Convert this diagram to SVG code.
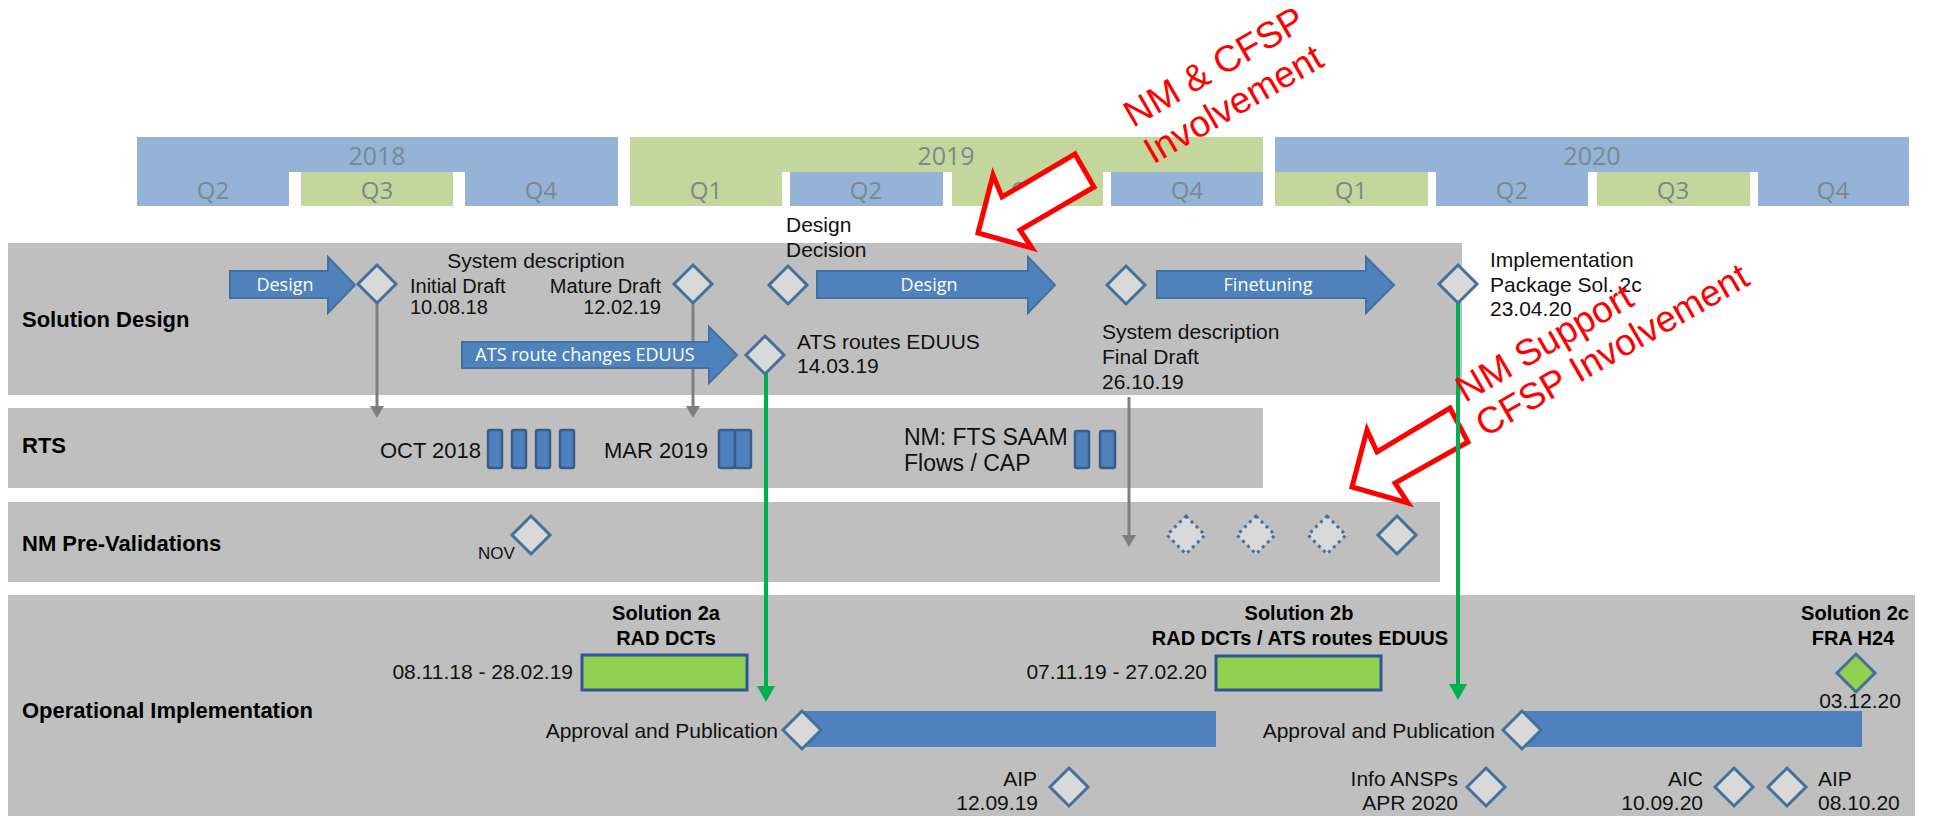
<svg xmlns="http://www.w3.org/2000/svg" width="1933" height="816" viewBox="0 0 1933 816">
<defs>
<style>
.bl{fill:#95B3D7}
.gr{fill:#C3D69B}
.hy{font-family:"Open Sans","Liberation Sans",sans-serif;font-size:25px;fill:#7C8791;text-anchor:middle}
.hq{font-family:"Open Sans","Liberation Sans",sans-serif;font-size:24px;fill:#7C8791;text-anchor:middle}
.lane{fill:#BFBFBF}
.lbl{font-family:"Liberation Sans",Arial,sans-serif;font-size:22px;font-weight:bold;fill:#000}
.t{font-family:"Liberation Sans",Arial,sans-serif;font-size:21px;fill:#111}
.t20{font-family:"Liberation Sans",Arial,sans-serif;font-size:20px;fill:#111}
.t22{font-family:"Liberation Sans",Arial,sans-serif;font-size:22px;fill:#111}
.tb{font-family:"Liberation Sans",Arial,sans-serif;font-size:20px;font-weight:bold;fill:#000;text-anchor:middle}
.e{text-anchor:end}
.m{text-anchor:middle}
.dia{fill:#D9D9D9;stroke:#41719C;stroke-width:3}
.dot{fill:#D9D9D9;stroke:#41719C;stroke-width:3;stroke-dasharray:3 4}
.gdia{fill:#92D050;stroke:#41719C;stroke-width:3}
.barr{fill:#4F81BD;stroke:#41719C;stroke-width:2}
.al{font-family:"Open Sans","Liberation Sans",sans-serif;font-size:18px;fill:#fff;text-anchor:middle}
.rts{fill:#4F81BD;stroke:#385D8A;stroke-width:2.5}
.gbox{fill:#92D050;stroke:#2F5597;stroke-width:3}
.pub{fill:#4F81BD}
.gline{stroke:#00B050;stroke-width:4;fill:none}
.gray{stroke:#7F7F7F;stroke-width:3;fill:none}
.red{fill:#fff;stroke:#FF0000;stroke-width:5;stroke-linejoin:miter}
.rt{font-family:"Liberation Sans",Arial,sans-serif;font-size:37px;fill:#FF0000}
</style>
<path id="dm" d="M0,-19L19,0L0,19L-19,0Z"/>
<marker id="ag" markerUnits="userSpaceOnUse" markerWidth="12" markerHeight="14" refX="0" refY="7" orient="auto"><path d="M0,0L12,7L0,14Z" fill="#7F7F7F"/></marker>
<marker id="agr" markerUnits="userSpaceOnUse" markerWidth="16" markerHeight="18" refX="0" refY="9" orient="auto"><path d="M0,0L16,9L0,18Z" fill="#00B050"/></marker>
</defs>
<rect width="1933" height="816" fill="#fff"/>

<g id="header">
<rect class="bl" x="137" y="137" width="481" height="35"/>
<rect class="bl" x="137" y="172" width="152" height="34"/>
<rect class="gr" x="301" y="172" width="152" height="34"/>
<rect class="bl" x="465" y="172" width="153" height="34"/>
<text class="hy" x="377" y="165">2018</text>
<text class="hq" x="213" y="199">Q2</text>
<text class="hq" x="377" y="199">Q3</text>
<text class="hq" x="541" y="199">Q4</text>
<rect class="gr" x="630" y="137" width="633" height="35"/>
<rect class="gr" x="630" y="172" width="152" height="34"/>
<rect class="bl" x="790" y="172" width="153" height="34"/>
<rect class="gr" x="952" y="172" width="151" height="34"/>
<rect class="bl" x="1111" y="172" width="152" height="34"/>
<text class="hy" x="946" y="165">2019</text>
<text class="hq" x="706" y="199">Q1</text>
<text class="hq" x="866" y="199">Q2</text>
<text class="hq" x="1027" y="199">Q3</text>
<text class="hq" x="1187" y="199">Q4</text>
<rect class="bl" x="1275" y="137" width="634" height="35"/>
<rect class="gr" x="1275" y="172" width="153" height="34"/>
<rect class="bl" x="1436" y="172" width="152" height="34"/>
<rect class="gr" x="1597" y="172" width="153" height="34"/>
<rect class="bl" x="1758" y="172" width="151" height="34"/>
<text class="hy" x="1592" y="165">2020</text>
<text class="hq" x="1351" y="199">Q1</text>
<text class="hq" x="1512" y="199">Q2</text>
<text class="hq" x="1673" y="199">Q3</text>
<text class="hq" x="1833" y="199">Q4</text>
</g>

<g id="lane-solution-design">
<rect class="lane" x="8" y="243" width="1454" height="152"/>
<text class="lbl" x="22" y="327">Solution Design</text>
</g>
<g id="lane-rts">
<rect class="lane" x="8" y="408" width="1255" height="80"/>
<text class="lbl" x="22" y="453">RTS</text>
</g>
<g id="lane-nm-prevalidations">
<rect class="lane" x="8" y="502" width="1432" height="80"/>
<text class="lbl" x="22" y="551">NM Pre-Validations</text>
</g>
<g id="lane-operational-implementation">
<rect class="lane" x="8" y="595" width="1907" height="221"/>
<text class="lbl" x="22" y="718">Operational Implementation</text>
</g>

<g id="callout-arrow-1">
<polygon class="red" points="978,233 993,175 1002,197 1075,154 1094,187 1020,230 1032,248"/>
</g>
<g id="callout-arrow-2">
<polygon class="red" points="1352,487 1367,430 1377,452 1450,408 1468,442 1395,483 1408,503"/>
</g>

<g id="connectors">
<line class="gray" x1="377" y1="303" x2="377" y2="406" marker-end="url(#ag)"/>
<line class="gray" x1="693" y1="303" x2="693" y2="406" marker-end="url(#ag)"/>
<line class="gray" x1="1129" y1="397" x2="1129" y2="535" marker-end="url(#ag)"/>
<line class="gline" x1="766" y1="372" x2="766" y2="686" marker-end="url(#agr)"/>
<line class="gline" x1="1458" y1="302" x2="1458" y2="684" marker-end="url(#agr)"/>
</g>

<g id="design-arrow-1">
<polygon class="barr" points="230,271 328,271 328,257 355,285 328,313 328,298 230,298"/>
<text class="al" x="285" y="291">Design</text>
</g>
<g id="initial-draft">
<use href="#dm" class="dia" x="377" y="284"/>
<text class="t m" x="536" y="268">System description</text>
<text class="t20" x="410" y="293">Initial Draft</text>
<text class="t20" x="410" y="314">10.08.18</text>
</g>
<g id="mature-draft">
<use href="#dm" class="dia" x="693" y="284"/>
<text class="t20 e" x="661" y="293">Mature Draft</text>
<text class="t20 e" x="661" y="314">12.02.19</text>
</g>
<g id="ats-route-changes">
<polygon class="barr" points="462,342 709,342 709,327 737,355 709,383 709,368 462,368"/>
<text class="al" x="585" y="361">ATS route changes  EDUUS</text>
</g>
<g id="ats-routes-eduus">
<use href="#dm" class="dia" x="765" y="355"/>
<text class="t" x="797" y="349">ATS routes EDUUS</text>
<text class="t" x="797" y="373">14.03.19</text>
</g>
<g id="design-decision">
<use href="#dm" class="dia" x="788" y="285"/>
<text class="t" x="786" y="232">Design</text>
<text class="t" x="786" y="257">Decision</text>
</g>
<g id="design-arrow-2">
<polygon class="barr" points="817,271 1028,271 1028,257 1055,285 1028,313 1028,298 817,298"/>
<text class="al" x="929" y="291">Design</text>
</g>
<g id="final-draft">
<use href="#dm" class="dia" x="1126" y="285"/>
<text class="t" x="1102" y="339">System description</text>
<text class="t" x="1102" y="364">Final Draft</text>
<text class="t" x="1102" y="389">26.10.19</text>
</g>
<g id="finetuning-arrow">
<polygon class="barr" points="1157,271 1366,271 1366,257 1394,285 1366,313 1366,298 1157,298"/>
<text class="al" x="1268" y="291">Finetuning</text>
</g>
<g id="implementation-package">
<use href="#dm" class="dia" x="1458" y="284"/>
<text class="t" x="1490" y="267">Implementation</text>
<text class="t" x="1490" y="292">Package Sol. 2c</text>
<text class="t" x="1490" y="316">23.04.20</text>
</g>

<g id="rts-oct-2018">
<text class="t22 e" x="481" y="458">OCT 2018</text>
<rect class="rts" x="488" y="430" width="14" height="38" rx="2"/>
<rect class="rts" x="512" y="430" width="14" height="38" rx="2"/>
<rect class="rts" x="536" y="430" width="14" height="38" rx="2"/>
<rect class="rts" x="560" y="430" width="14" height="38" rx="2"/>
</g>
<g id="rts-mar-2019">
<text class="t22 e" x="708" y="458">MAR 2019</text>
<rect class="rts" x="719" y="430" width="16" height="38" rx="2"/>
<rect class="rts" x="735" y="430" width="16" height="38" rx="2"/>
</g>
<g id="rts-nm-fts">
<text class="t22" x="904" y="445" style="font-size:23px">NM: FTS SAAM</text>
<text class="t22" x="904" y="471" style="font-size:23px">Flows / CAP</text>
<rect class="rts" x="1075" y="431" width="14" height="37" rx="2"/>
<rect class="rts" x="1100" y="431" width="15" height="37" rx="2"/>
</g>

<g id="prevalidation-nov">
<use href="#dm" class="dia" x="531" y="535"/>
<text class="t" x="478" y="559" style="font-size:17px">NOV</text>
</g>
<g id="prevalidation-planned">
<use href="#dm" class="dot" x="1186" y="535"/>
<use href="#dm" class="dot" x="1256" y="535"/>
<use href="#dm" class="dot" x="1327" y="535"/>
</g>
<g id="prevalidation-final">
<use href="#dm" class="dia" x="1397" y="535"/>
</g>

<g id="solution-2a">
<text class="tb" x="666" y="620">Solution 2a</text>
<text class="tb" x="666" y="645">RAD DCTs</text>
<rect class="gbox" x="582" y="655" width="165" height="35"/>
<text class="t e" x="573" y="679">08.11.18 - 28.02.19</text>
</g>
<g id="approval-1">
<rect class="pub" x="802" y="711" width="414" height="36"/>
<use href="#dm" class="dia" x="802" y="730"/>
<text class="t e" x="778" y="738">Approval and Publication</text>
</g>
<g id="aip-2019">
<use href="#dm" class="dia" x="1069" y="787"/>
<text class="t e" x="1037" y="786">AIP</text>
<text class="t e" x="1038" y="810">12.09.19</text>
</g>
<g id="solution-2b">
<text class="tb" x="1299" y="620">Solution 2b</text>
<text class="tb" x="1300" y="645">RAD DCTs / ATS routes  EDUUS</text>
<rect class="gbox" x="1216" y="656" width="165" height="34"/>
<text class="t e" x="1207" y="679">07.11.19 - 27.02.20</text>
</g>
<g id="approval-2">
<rect class="pub" x="1522" y="711" width="340" height="36"/>
<use href="#dm" class="dia" x="1522" y="730"/>
<text class="t e" x="1495" y="738">Approval and Publication</text>
</g>
<g id="info-ansps">
<use href="#dm" class="dia" x="1486" y="787"/>
<text class="t e" x="1458" y="786">Info ANSPs</text>
<text class="t e" x="1458" y="810">APR 2020</text>
</g>
<g id="aic">
<use href="#dm" class="dia" x="1734" y="787"/>
<text class="t e" x="1703" y="786">AIC</text>
<text class="t e" x="1703" y="810">10.09.20</text>
</g>
<g id="aip-2020">
<use href="#dm" class="dia" x="1787" y="787"/>
<text class="t" x="1818" y="786">AIP</text>
<text class="t" x="1818" y="810">08.10.20</text>
</g>
<g id="solution-2c">
<text class="tb" x="1855" y="620">Solution 2c</text>
<text class="tb" x="1853" y="645">FRA H24</text>
<use href="#dm" class="gdia" x="1856" y="673"/>
<text class="t m" x="1860" y="708">03.12.20</text>
</g>

<g id="callout-text-1">
<text class="rt" transform="translate(1133,128) rotate(-30)"><tspan x="0" y="0">NM &amp; CFSP</tspan><tspan x="-1" y="42">Involvement</tspan></text>
</g>
<g id="callout-text-2">
<text class="rt" transform="translate(1465,403) rotate(-30)"><tspan x="0" y="0">NM Support</tspan><tspan x="0" y="40">CFSP Involvement</tspan></text>
</g>
</svg>
